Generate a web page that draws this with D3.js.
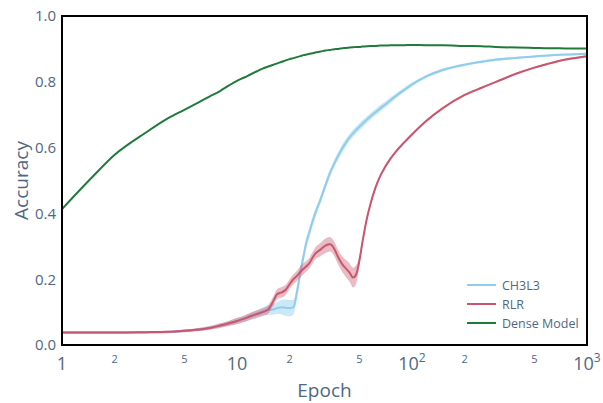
<!DOCTYPE html>
<html><head><meta charset="utf-8">
<script src="https://cdn.jsdelivr.net/npm/d3@7"></script>
<style>body{margin:0;background:#fff;}svg{display:block;font-family:"Open Sans",sans-serif;}</style>
</head><body><svg id="c" width="603" height="403"></svg>
<script>
const epochs = [1,1.5,2,3,4,5,6,7,8,9,10,11,12,13,14,15,16,17,18,19,20,21,22,23,24,25,26,27,28,30,32,34,36,38,40,42,44,46,48,50,52,55,58,62,66,70,75,80,90,100,120,150,200,250,300,400,500,600,700,800,1000];
const ch3l3 = [0.038,0.038,0.038,0.038,0.039,0.043,0.047,0.052,0.059,0.066,0.073,0.080,0.088,0.095,0.102,0.106,0.108,0.112,0.115,0.113,0.112,0.115,0.160,0.220,0.270,0.315,0.345,0.375,0.400,0.442,0.485,0.523,0.552,0.577,0.598,0.616,0.631,0.643,0.654,0.663,0.672,0.684,0.695,0.708,0.720,0.730,0.743,0.755,0.775,0.792,0.816,0.836,0.852,0.861,0.867,0.873,0.877,0.880,0.882,0.883,0.885];
const ch3l3Std = [0.003,0.003,0.003,0.003,0.003,0.004,0.004,0.005,0.006,0.007,0.008,0.009,0.010,0.010,0.012,0.014,0.016,0.018,0.022,0.025,0.025,0.022,0.020,0.020,0.018,0.016,0.015,0.014,0.013,0.012,0.012,0.012,0.012,0.012,0.012,0.012,0.011,0.011,0.011,0.011,0.011,0.010,0.010,0.010,0.010,0.009,0.009,0.008,0.007,0.006,0.005,0.005,0.004,0.004,0.004,0.003,0.003,0.003,0.003,0.003,0.003];
const rlr = [0.038,0.038,0.038,0.039,0.040,0.043,0.047,0.052,0.059,0.066,0.073,0.080,0.088,0.094,0.100,0.107,0.130,0.155,0.160,0.168,0.185,0.200,0.210,0.222,0.232,0.240,0.250,0.265,0.278,0.290,0.302,0.306,0.292,0.265,0.245,0.232,0.220,0.205,0.215,0.255,0.310,0.380,0.430,0.480,0.515,0.540,0.565,0.585,0.615,0.640,0.680,0.720,0.760,0.782,0.799,0.826,0.843,0.855,0.864,0.870,0.878];
const rlrStd = [0.003,0.003,0.003,0.003,0.003,0.004,0.005,0.006,0.007,0.008,0.010,0.010,0.011,0.012,0.012,0.013,0.014,0.015,0.016,0.015,0.015,0.015,0.016,0.017,0.017,0.016,0.016,0.017,0.018,0.020,0.022,0.022,0.022,0.022,0.024,0.026,0.028,0.030,0.028,0.015,0.010,0.008,0.007,0.006,0.005,0.005,0.005,0.004,0.004,0.004,0.004,0.003,0.003,0.003,0.003,0.003,0.003,0.003,0.003,0.003,0.003];
const dense = [0.413,0.512,0.578,0.645,0.688,0.715,0.737,0.756,0.772,0.789,0.803,0.813,0.823,0.832,0.840,0.846,0.851,0.856,0.861,0.865,0.869,0.872,0.875,0.878,0.881,0.883,0.885,0.887,0.889,0.892,0.895,0.897,0.899,0.900,0.902,0.903,0.904,0.905,0.906,0.906,0.907,0.908,0.909,0.909,0.910,0.910,0.911,0.911,0.911,0.912,0.911,0.911,0.909,0.908,0.906,0.904,0.903,0.902,0.902,0.901,0.901];
const yTicks = [0,0.2,0.4,0.6,0.8,1.0];
const xMajorTicks = [1,10,100,1000];
const xMajorBase = ["1","10","10","10"];
const xMajorExp = ["","","2","3"];
const xMinorTicks = [2,5,20,50,200,500];
const xMinorLabels = ["2","5","2","5","2","5"];
const seriesNames = ["CH3L3","RLR","Dense Model"];
const seriesColors = ["#8fcdec","#c9566d","#1f7a3c"];

const svg = d3.select("#c");
const x = d3.scaleLog().domain([1,1000]).range([62,587]);
const y = d3.scaleLinear().domain([0,1]).range([345,16]);
const txt = "#506784";
const cv = d3.curveMonotoneX;

const area = (m,s)=>d3.area().curve(cv).x((d,i)=>x(epochs[i])).y0((d,i)=>y(m[i]-s[i])).y1((d,i)=>y(m[i]+s[i]));
const line = m=>d3.line().curve(cv).x((d,i)=>x(epochs[i])).y((d,i)=>y(m[i]));

svg.append("path").datum(ch3l3).attr("d",area(ch3l3,ch3l3Std)).attr("fill",seriesColors[0]).attr("fill-opacity",0.45);
svg.append("path").datum(ch3l3).attr("d",line(ch3l3)).attr("fill","none").attr("stroke",seriesColors[0]).attr("stroke-width",2);
svg.append("path").datum(rlr).attr("d",area(rlr,rlrStd)).attr("fill",seriesColors[1]).attr("fill-opacity",0.4);
svg.append("path").datum(rlr).attr("d",line(rlr)).attr("fill","none").attr("stroke",seriesColors[1]).attr("stroke-width",2);
svg.append("path").datum(dense).attr("d",line(dense)).attr("fill","none").attr("stroke",seriesColors[2]).attr("stroke-width",2);

// frame
svg.append("rect").attr("x",x(1)).attr("y",y(1)).attr("width",x(1000)-x(1)).attr("height",y(0)-y(1))
  .attr("fill","none").attr("stroke","#000").attr("stroke-width",2);

// y axis
const ya = svg.append("g").attr("transform",`translate(${x(1)},0)`)
  .call(d3.axisLeft(y).tickValues(yTicks).tickFormat(d3.format(".1f")).tickSize(0).tickPadding(6));
ya.select(".domain").remove();
ya.selectAll("text").attr("fill",txt).attr("font-size",15).attr("font-family","Open Sans");

// x axis major
const xg = svg.append("g");
xMajorTicks.forEach((v,i)=>{
  const t = xg.append("text").attr("x",x(v)).attr("y",370).attr("fill",txt).attr("font-size",18)
    .attr("text-anchor","middle");
  t.append("tspan").text(xMajorBase[i]);
  if(xMajorExp[i]) t.append("tspan").attr("font-size",12).attr("dy",-8).text(xMajorExp[i]);
});
xMinorTicks.forEach((v,i)=>{
  xg.append("text").attr("x",x(v)).attr("y",363).attr("fill",txt).attr("font-size",11)
    .attr("text-anchor","middle").text(xMinorLabels[i]);
});

// axis titles
svg.append("text").attr("x",(x(1)+x(1000))/2).attr("y",397).attr("text-anchor","middle")
  .attr("fill",txt).attr("font-size",19).text("Epoch");
svg.append("text").attr("transform",`translate(28,${(y(0)+y(1))/2}) rotate(-90)`).attr("text-anchor","middle")
  .attr("fill",txt).attr("font-size",19).text("Accuracy");

// legend
const lg = svg.append("g");
seriesNames.forEach((n,i)=>{
  const yy = 285 + i*19;
  lg.append("line").attr("x1",467).attr("x2",496).attr("y1",yy).attr("y2",yy).attr("stroke",seriesColors[i]).attr("stroke-width",2);
  lg.append("text").attr("x",502).attr("y",yy+4.5).attr("fill",txt).attr("font-size",12.5).text(n);
});
</script></body></html>
